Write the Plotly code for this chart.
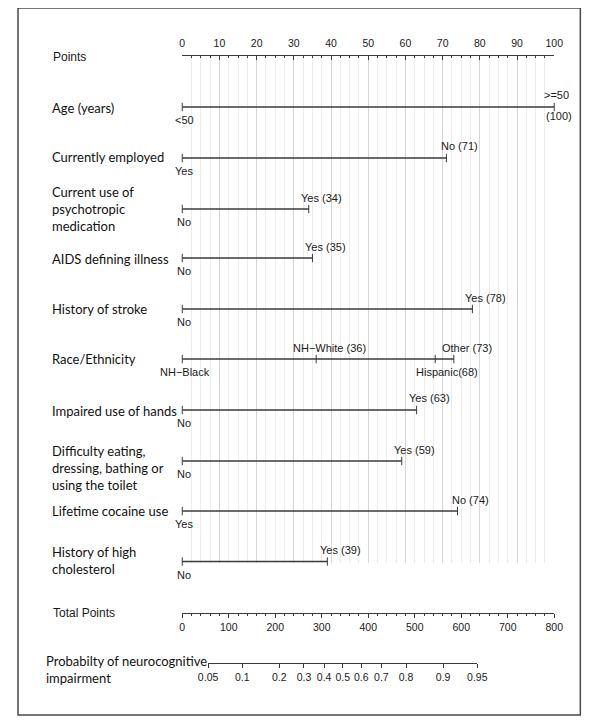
import math
import plotly.graph_objects as go

# page body has an 8px margin; the figure is sized to fill the rest of the window
OFF = 8
W, H = 600 - OFF, 724 - OFF

# ---------------- data ----------------
row_labels = [
    "Age (years)",
    "Currently employed",
    "Current use of<br>psychotropic<br>medication",
    "AIDS defining illness",
    "History of stroke",
    "Race/Ethnicity",
    "Impaired use of hands",
    "Difficulty eating,<br>dressing, bathing or<br>using the toilet",
    "Lifetime cocaine use",
    "History of high<br>cholesterol",
]
level_names = [
    ["<50", ">=50"],
    ["Yes", "No"],
    ["No", "Yes"],
    ["No", "Yes"],
    ["No", "Yes"],
    ["NH\u2212Black", "NH\u2212White", "Hispanic", "Other"],
    ["No", "Yes"],
    ["No", "Yes"],
    ["Yes", "No"],
    ["No", "Yes"],
]
level_points = [
    [0, 100],
    [0, 71],
    [0, 34],
    [0, 35],
    [0, 78],
    [0, 36, 68, 73],
    [0, 63],
    [0, 59],
    [0, 74],
    [0, 39],
]
points_ticks = list(range(0, 101, 10))
total_ticks = list(range(0, 801, 100))
prob_ticks = [0.05, 0.1, 0.2, 0.3, 0.4, 0.5, 0.6, 0.7, 0.8, 0.9, 0.95]
prob_labels = ["0.05", "0.1", "0.2", "0.3", "0.4", "0.5", "0.6", "0.7", "0.8", "0.9", "0.95"]
# model linking total points to probability (logistic)
TP_AT_HALF = 345.0
POINTS_PER_LOGIT = 98.3

# ---------------- layout helpers ----------------
label_side = [
    ["below", "above"],
    ["below", "above"],
    ["below", "above"],
    ["below", "above"],
    ["below", "above"],
    ["below", "above", "below", "above"],
    ["below", "above"],
    ["below", "above"],
    ["below", "above"],
    ["below", "above"],
]
# positions below are in window pixels
row_y = [107, 158, 209, 258, 309, 359, 410, 461, 511, 561.5]
row_label_y = [108, 157, 209, 259, 309, 359, 411, 468, 511, 560]

XL, XR = 178, 563
YT, YB = 56, 563
TOTAL_Y = 613
PROB_Y = 663


def px(v):
    return (v - OFF) / W


def py(v):
    return 1 - (v - OFF) / H


def tp_of(p):
    return TP_AT_HALF + POINTS_PER_LOGIT * math.log(p / (1 - p))


AW = {" ": 278, "(": 333, ")": 333, "N": 722, "o": 556, "Y": 667, "e": 556, "s": 500,
      "H": 722, "\u2212": 584, "W": 944, "h": 556, "i": 222, "t": 278, "B": 667,
      "l": 222, "a": 556, "c": 500, "k": 500, "p": 556, "n": 556, "O": 778, "r": 333,
      ">": 584, "=": 584, "<": 584}


def tw(s, size):
    return sum(AW.get(c, 556) for c in s) * size / 1000.0


LINE_C = "#3a3a3a"
TXT_C = "#1a1a1a"
TICK_FONT = dict(family="Liberation Sans, Arial", size=10.5, color=TXT_C)
VAL_FONT = dict(family="Liberation Sans, Arial", size=11, color=TXT_C)
LAB_FONT = dict(family="Lato, Open Sans", size=13, color="#111")

fig = go.Figure()

annotations = []
for i, lab in enumerate(row_labels):
    pts = level_points[i]
    y = row_y[i]
    fig.add_trace(go.Scatter(
        x=[min(pts), max(pts)], y=[y, y], mode="lines",
        line=dict(color=LINE_C, width=1.3), xaxis="x", yaxis="y",
        hoverinfo="skip", showlegend=False))
    fig.add_trace(go.Scatter(
        x=pts, y=[y] * len(pts), mode="markers", cliponaxis=False,
        marker=dict(symbol="line-ns", size=6, line=dict(width=1, color=LINE_C)),
        xaxis="x", yaxis="y", hoverinfo="skip", showlegend=False))
    annotations.append(dict(
        x=px(41), y=py(row_label_y[i]), xref="paper", yref="paper",
        text=lab, showarrow=False, xanchor="left", yanchor="middle",
        align="left", font=LAB_FONT))
    for name, p, side in zip(level_names[i], pts, label_side[i]):
        yy = y - 11.5 if side == "above" else y + 13
        if p > 0 and i != 0:
            gap = "" if name == "Hispanic" else " "
            text = f"{name}{gap}({p})"
        else:
            text = name
        annotations.append(dict(
            x=p, y=py(yy), xref="x", yref="paper", text=text, showarrow=False,
            xanchor="left", yanchor="middle", xshift=-tw(name, VAL_FONT["size"]) / 2,
            font=VAL_FONT))
        if i == 0 and p > 0:
            annotations.append(dict(
                x=p, y=py(y + 9), xref="x", yref="paper", text=f"({p})",
                showarrow=False, xanchor="center", yanchor="middle", xshift=5,
                font=VAL_FONT))

# axis titles
annotations.append(dict(x=px(42), y=py(57), xref="paper", yref="paper", text="Points",
                        showarrow=False, xanchor="left", yanchor="middle",
                        font=dict(family="Liberation Sans, Arial", size=12, color=TXT_C)))
annotations.append(dict(x=px(42), y=py(TOTAL_Y), xref="paper", yref="paper", text="Total Points",
                        showarrow=False, xanchor="left", yanchor="middle",
                        font=dict(family="Liberation Sans, Arial", size=12, color=TXT_C)))
annotations.append(dict(x=px(35), y=py(669), xref="paper", yref="paper",
                        text="Probabilty of neurocognitive<br>impairment",
                        showarrow=False, xanchor="left", yanchor="middle", align="left",
                        font=LAB_FONT))

# dummy traces so extra axes are drawn
fig.add_trace(go.Scatter(x=[0], y=[None], mode="lines", xaxis="x2", yaxis="y",
                         hoverinfo="skip", showlegend=False))
fig.add_trace(go.Scatter(x=[tp_of(0.5)], y=[None], mode="lines", xaxis="x3", yaxis="y",
                         hoverinfo="skip", showlegend=False))

tp_lo, tp_hi = tp_of(prob_ticks[0]), tp_of(prob_ticks[-1])
px_per_tp = (XR - XL) / 800.0
x3_lo = XL + tp_lo * px_per_tp
x3_hi = XL + tp_hi * px_per_tp
eps = 1e-6

fig.update_layout(
    width=W, height=H,
    margin=dict(l=0, r=0, t=0, b=0),
    paper_bgcolor="white", plot_bgcolor="rgba(0,0,0,0)",
    showlegend=False,
    xaxis=dict(
        domain=[px(XL), px(XR)], range=[0, 100], side="top", anchor="y",
        tickmode="array", tickvals=points_ticks, ticktext=[str(v) for v in points_ticks],
        ticks="inside", ticklen=4, tickwidth=1, tickcolor=LINE_C,
        showline=True, linecolor=LINE_C, linewidth=1.2,
        showgrid=True, gridcolor="#d6d6d6", gridwidth=1, zeroline=False,
        minor=dict(dtick=2.5, tick0=0, ticks="inside", ticklen=2, tickcolor=LINE_C,
                   showgrid=True, gridcolor="#ececec", gridwidth=1),
        tickfont=TICK_FONT, ticklabelstandoff=4, fixedrange=True,
    ),
    yaxis=dict(
        domain=[py(YB), py(YT)], range=[YB, YT], visible=False, fixedrange=True,
    ),
    xaxis2=dict(
        domain=[px(XL), px(XR)], range=[0, 800], overlaying="x", anchor="free",
        position=py(TOTAL_Y), side="bottom",
        tickmode="array", tickvals=total_ticks, ticktext=[str(v) for v in total_ticks],
        ticks="outside", ticklen=4, tickwidth=1, tickcolor=LINE_C,
        minor=dict(dtick=20, tick0=0, ticks="outside", ticklen=2, tickcolor=LINE_C, showgrid=False),
        showline=True, linecolor=LINE_C, linewidth=1.2, showgrid=False, zeroline=False,
        tickfont=TICK_FONT, fixedrange=True,
    ),
    xaxis3=dict(
        domain=[px(x3_lo), px(x3_hi)], range=[tp_lo - eps, tp_hi + eps], anchor="free",
        position=py(PROB_Y), side="bottom",
        tickmode="array", tickvals=[tp_of(p) for p in prob_ticks], ticktext=prob_labels,
        ticks="outside", ticklen=4, tickwidth=1, tickcolor=LINE_C,
        showline=True, linecolor=LINE_C, linewidth=1.2, showgrid=False, zeroline=False,
        tickfont=TICK_FONT, fixedrange=True,
    ),
    annotations=annotations,
    shapes=[dict(type="rect", xref="paper", yref="paper",
                 x0=px(8), x1=px(590), y0=py(715), y1=py(8),
                 line=dict(color="#4a4a4a", width=1.5), fillcolor="rgba(0,0,0,0)")],
)

fig.write_html("out.html")
